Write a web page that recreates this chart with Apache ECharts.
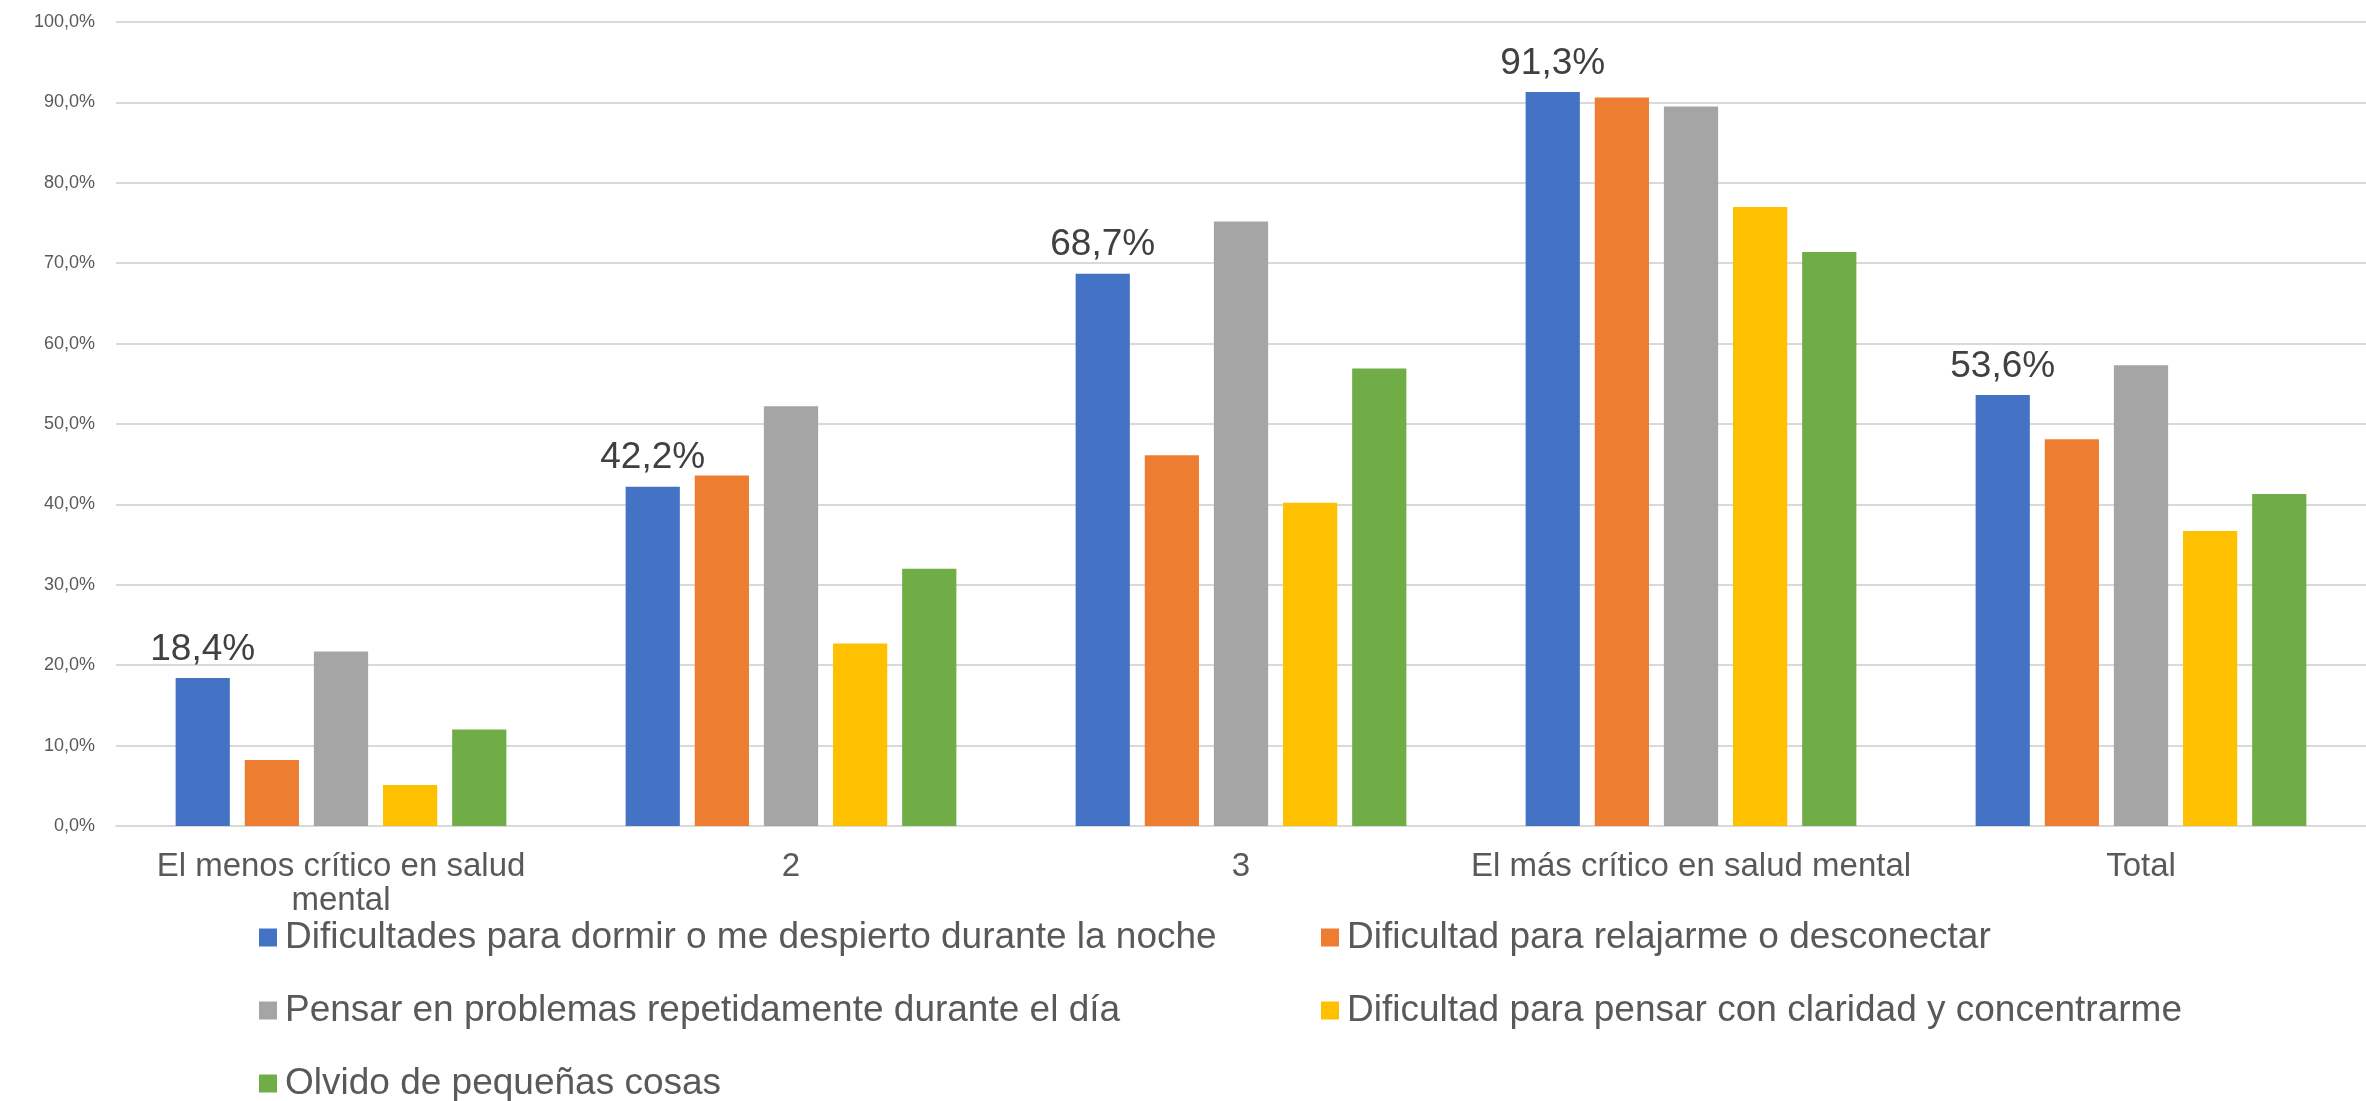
<!DOCTYPE html>
<html>
<head>
<meta charset="utf-8">
<script src="https://cdn.jsdelivr.net/npm/echarts@6/dist/echarts.min.js"></script>
<style>
  html, body { margin: 0; padding: 0; background: #ffffff; }
  #chart { width: 2366px; height: 1101px; }
</style>
</head>
<body>
<div id="chart"></div>
<script>
// Grupos según nivel de criticidad en salud mental
const categories = [
  'El menos crítico en salud mental',
  '2',
  '3',
  'El más crítico en salud mental',
  'Total'
];

const seriesNames = [
  'Dificultades para dormir o me despierto durante la noche',
  'Dificultad para relajarme o desconectar',
  'Pensar en problemas repetidamente durante el día',
  'Dificultad para pensar con claridad y concentrarme',
  'Olvido de pequeñas cosas'
];

// Porcentajes (0–1) por síntoma
const dormir      = [0.184, 0.422, 0.687, 0.913, 0.536];
const relajarme   = [0.082, 0.436, 0.461, 0.906, 0.481];
const problemas   = [0.217, 0.522, 0.752, 0.895, 0.573];
const concentrar  = [0.051, 0.227, 0.402, 0.770, 0.367];
const olvido      = [0.120, 0.320, 0.569, 0.714, 0.413];

const seriesValues = [dormir, relajarme, problemas, concentrar, olvido];
const colors = ['#4472C4', '#ED7D31', '#A5A5A5', '#FFC000', '#70AD47'];

const yTicks = { min: 0, max: 1, interval: 0.1 };

const FONT = '"Liberation Sans", Arial, sans-serif';
const CAT_FONT_SIZE = 33;
const CAT_MAX_WIDTH = 455;

function pct(v) {
  return (v * 100).toFixed(1).replace('.', ',') + '%';
}

// Word-wrap a category name to the width of its band
const measureCtx = document.createElement('canvas').getContext('2d');
function wrapLabel(text) {
  measureCtx.font = CAT_FONT_SIZE + 'px ' + FONT;
  const words = text.split(' ');
  const lines = [];
  let line = '';
  words.forEach(w => {
    const trial = line ? line + ' ' + w : w;
    if (line && measureCtx.measureText(trial).width > CAT_MAX_WIDTH) {
      lines.push(line);
      line = w;
    } else {
      line = trial;
    }
  });
  if (line) lines.push(line);
  return lines.join('\n');
}

const series = seriesValues.map((vals, i) => ({
  name: seriesNames[i],
  type: 'bar',
  data: vals,
  barGap: '27.5%',
  barCategoryGap: '26.5%',
  itemStyle: { color: colors[i] },
  label: i === 0 ? {
    show: true,
    position: 'top',
    distance: 10,
    formatter: p => pct(p.value),
    color: '#404040',
    fontFamily: FONT,
    fontSize: 37
  } : { show: false },
  emphasis: { disabled: true }
}));

const legendText = { color: '#595959', fontFamily: FONT, fontSize: 37, padding: [0, 0, 0, 3] };

function legendColumn(left, names) {
  return {
    orient: 'vertical',
    left: left,
    top: 919,
    height: 240,
    padding: 0,
    itemWidth: 18,
    itemHeight: 18,
    itemGap: 36,
    icon: 'rect',
    selectedMode: false,
    textStyle: legendText,
    data: names
  };
}

const option = {
  animation: false,
  backgroundColor: '#ffffff',
  color: colors,
  grid: { left: 116, width: 2259, top: 22, bottom: 275, containLabel: false },
  xAxis: {
    type: 'category',
    data: categories,
    axisLine: { show: true, lineStyle: { color: '#d9d9d9', width: 2 } },
    axisTick: { show: false },
    axisLabel: {
      color: '#595959',
      fontFamily: FONT,
      fontSize: CAT_FONT_SIZE,
      lineHeight: 34,
      margin: 24,
      interval: 0,
      hideOverlap: false,
      formatter: v => wrapLabel(v)
    }
  },
  yAxis: {
    type: 'value',
    min: yTicks.min,
    max: yTicks.max,
    interval: yTicks.interval,
    axisLine: { show: false },
    axisTick: { show: false },
    splitLine: { lineStyle: { color: '#d9d9d9', width: 2 } },
    axisLabel: {
      color: '#595959',
      fontFamily: FONT,
      fontSize: 18,
      margin: 21,
      formatter: v => pct(v)
    }
  },
  legend: [
    legendColumn(259, [seriesNames[0], seriesNames[2], seriesNames[4]]),
    legendColumn(1321, [seriesNames[1], seriesNames[3]])
  ],
  series: series
};

const chart = echarts.init(document.getElementById('chart'), null, { renderer: 'canvas' });
chart.setOption(option);
</script>
</body>
</html>
